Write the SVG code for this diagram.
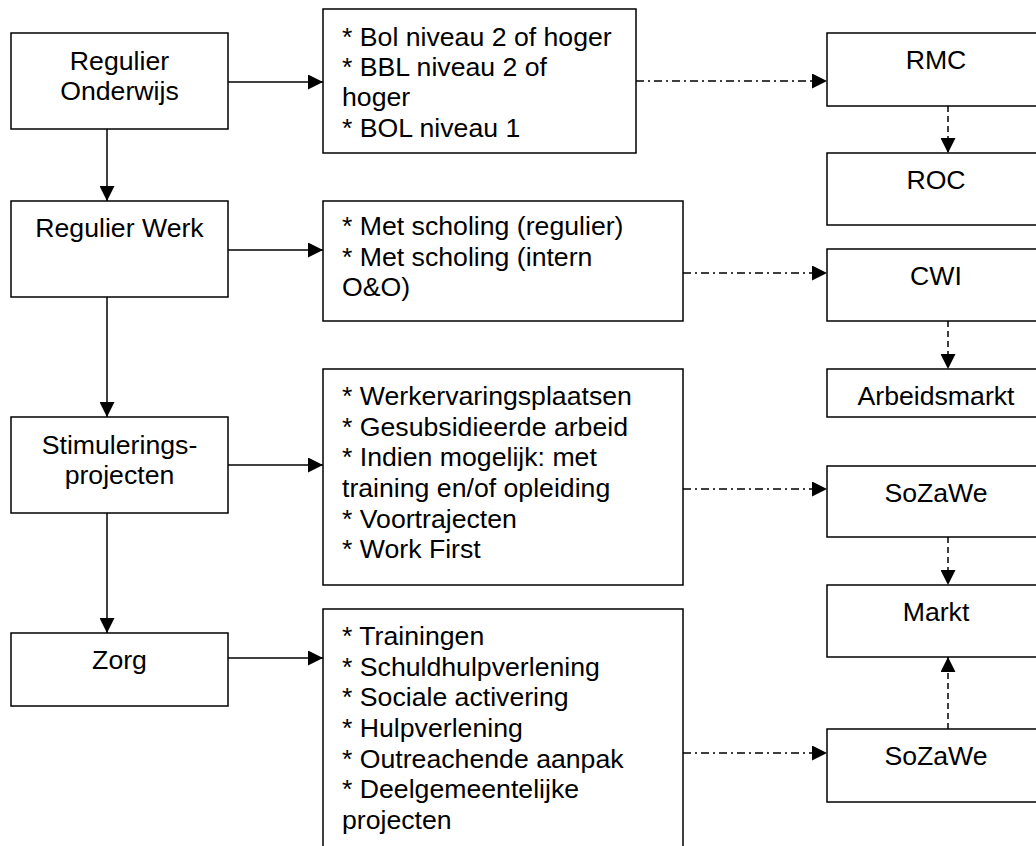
<svg xmlns="http://www.w3.org/2000/svg" width="1036" height="846" viewBox="0 0 1036 846">
<style>
.box{fill:#fff;stroke:#000;stroke-width:1.5}
text{font-family:"Liberation Sans",Arial,sans-serif;font-size:26.67px;fill:#000}
.c{text-anchor:middle}
.solid{stroke:#000;stroke-width:1.5;fill:none}
.dashdot{stroke:#000;stroke-width:1.5;fill:none;stroke-dasharray:8 4 2 4}
.dash{stroke:#000;stroke-width:1.5;fill:none;stroke-dasharray:6 4}
</style>
<defs>
<marker id="ah" markerUnits="userSpaceOnUse" markerWidth="15" markerHeight="15" refX="15" refY="7.5" orient="auto">
<path d="M0,0 L15,7.5 L0,15 z" fill="#000"/>
</marker>
</defs>
<rect width="1036" height="846" fill="#fff"/>
<g id="connectors">
<line class="solid" x1="107" y1="129" x2="107" y2="201" marker-end="url(#ah)"/>
<line class="solid" x1="107" y1="297" x2="107" y2="417" marker-end="url(#ah)"/>
<line class="solid" x1="107" y1="513" x2="107" y2="633" marker-end="url(#ah)"/>
<line class="solid" x1="228" y1="82" x2="323" y2="82" marker-end="url(#ah)"/>
<line class="solid" x1="228" y1="250" x2="323" y2="250" marker-end="url(#ah)"/>
<line class="solid" x1="228" y1="465" x2="323" y2="465" marker-end="url(#ah)"/>
<line class="solid" x1="228" y1="658" x2="323" y2="658" marker-end="url(#ah)"/>
<line class="dashdot" x1="636" y1="81" x2="827" y2="81" marker-end="url(#ah)"/>
<line class="dashdot" x1="683" y1="273" x2="827" y2="273" marker-end="url(#ah)"/>
<line class="dashdot" x1="683" y1="489" x2="827" y2="489" marker-end="url(#ah)"/>
<line class="dashdot" x1="683" y1="753" x2="827" y2="753" marker-end="url(#ah)"/>
<line class="dash" x1="948" y1="106" x2="948" y2="153" marker-end="url(#ah)"/>
<line class="dash" x1="948" y1="321" x2="948" y2="369" marker-end="url(#ah)"/>
<line class="dash" x1="948" y1="537" x2="948" y2="585" marker-end="url(#ah)"/>
<line class="dash" x1="948" y1="729" x2="948" y2="657" marker-end="url(#ah)"/>
</g>
<g id="regulier-onderwijs">
<rect class="box" x="11" y="33" width="217" height="96"/>
<text class="c" x="119.5" y="69.5">Regulier</text>
<text class="c" x="119.5" y="100">Onderwijs</text>
</g>
<g id="regulier-werk">
<rect class="box" x="11" y="201" width="217" height="96"/>
<text class="c" x="119.5" y="237">Regulier Werk</text>
</g>
<g id="stimulerings">
<rect class="box" x="11" y="417" width="217" height="96"/>
<text class="c" x="119.5" y="453.5">Stimulerings-</text>
<text class="c" x="119.5" y="484">projecten</text>
</g>
<g id="zorg">
<rect class="box" x="11" y="633" width="217" height="73"/>
<text class="c" x="119.5" y="669">Zorg</text>
</g>
<g id="onderwijs-opties">
<rect class="box" x="323" y="9" width="313" height="144"/>
<text x="342" y="45.7">* Bol niveau 2 of hoger</text>
<text x="342" y="76">* BBL niveau 2 of</text>
<text x="342" y="106.3">hoger</text>
<text x="342" y="136.7">* BOL niveau 1</text>
</g>
<g id="werk-opties">
<rect class="box" x="323" y="201" width="360" height="120"/>
<text x="342" y="235">* Met scholing (regulier)</text>
<text x="342" y="265.7">* Met scholing (intern</text>
<text x="342" y="296.3">O&amp;O)</text>
</g>
<g id="stimulerings-opties">
<rect class="box" x="323" y="369" width="360" height="216"/>
<text x="342" y="405">* Werkervaringsplaatsen</text>
<text x="342" y="435.7">* Gesubsidieerde arbeid</text>
<text x="342" y="466.3">* Indien mogelijk: met</text>
<text x="342" y="497">training en/of opleiding</text>
<text x="342" y="527.7">* Voortrajecten</text>
<text x="342" y="558.3">* Work First</text>
</g>
<g id="zorg-opties">
<rect class="box" x="323" y="609" width="360" height="300"/>
<text x="342" y="645">* Trainingen</text>
<text x="342" y="675.7">* Schuldhulpverlening</text>
<text x="342" y="706.3">* Sociale activering</text>
<text x="342" y="737">* Hulpverlening</text>
<text x="342" y="767.7">* Outreachende aanpak</text>
<text x="342" y="798.3">* Deelgemeentelijke</text>
<text x="342" y="829">projecten</text>
</g>
<g id="rmc">
<rect class="box" x="827" y="33" width="218" height="73"/>
<text class="c" x="936" y="69">RMC</text>
</g>
<g id="roc">
<rect class="box" x="827" y="153" width="218" height="72"/>
<text class="c" x="936" y="189">ROC</text>
</g>
<g id="cwi">
<rect class="box" x="827" y="249" width="218" height="72"/>
<text class="c" x="936" y="285">CWI</text>
</g>
<g id="arbeidsmarkt">
<rect class="box" x="827" y="369" width="218" height="48"/>
<text class="c" x="936" y="405">Arbeidsmarkt</text>
</g>
<g id="sozawe-1">
<rect class="box" x="827" y="466" width="218" height="71"/>
<text class="c" x="936" y="502">SoZaWe</text>
</g>
<g id="markt">
<rect class="box" x="827" y="585" width="218" height="72"/>
<text class="c" x="936" y="621">Markt</text>
</g>
<g id="sozawe-2">
<rect class="box" x="827" y="729" width="218" height="73"/>
<text class="c" x="936" y="765">SoZaWe</text>
</g>
</svg>
